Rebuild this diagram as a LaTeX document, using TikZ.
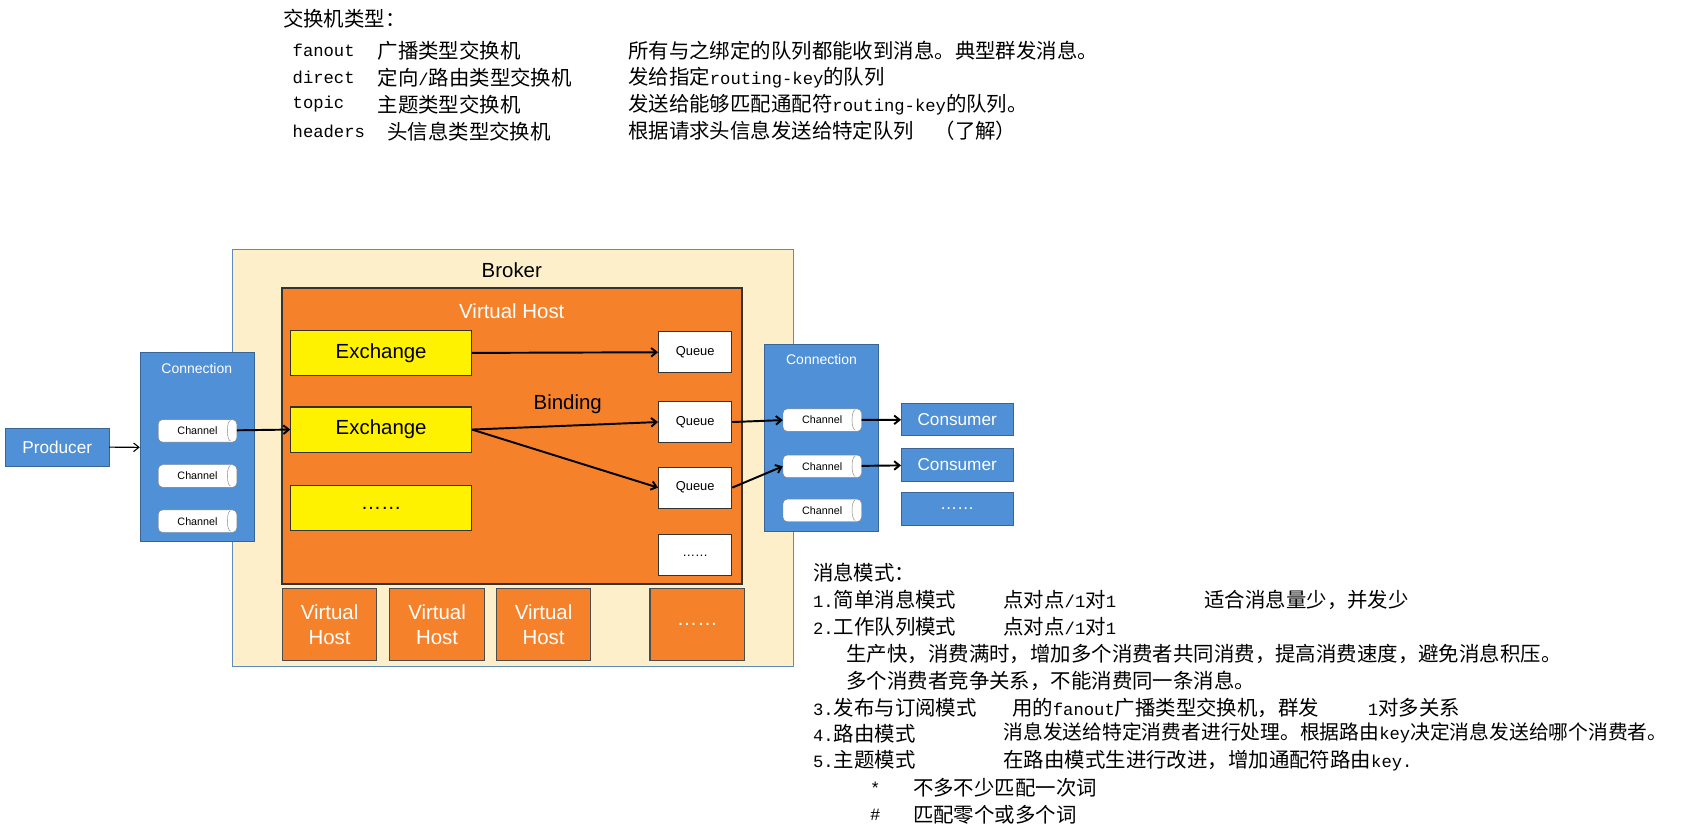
\documentclass[tikz,border=0pt]{standalone}
\usepackage{fontspec}
\setmainfont{Liberation Sans}
\newfontfamily\cjk{Noto Sans CJK SC}
\newfontfamily\mono{Liberation Mono}
\usetikzlibrary{arrows.meta,calc}
\begin{document}
\begin{tikzpicture}[x=1pt,y=-1pt,
 chan/.style={fill=white,draw=gray,rounded corners=4pt,font=\fontsize{10}{10}\selectfont},
 arr/.style={->,line width=1.8pt,>={Straight Barb[length=5pt,width=8pt]}},
 txt/.style={anchor=west,inner sep=0pt,font=\cjk\fontsize{19}{19}\selectfont},
 btxt/.style={anchor=west,inner sep=0pt,font=\cjk\fontsize{19}{19}\selectfont},
 bluebox/.style={fill=cblue,draw=cblue!70!black,text=white,inner sep=0pt,anchor=north west,font=\fontsize{16}{16}\selectfont}]
\definecolor{cblue}{RGB}{80,144,214}
\definecolor{corange}{RGB}{245,130,42}
\definecolor{ccream}{RGB}{253,239,201}
\definecolor{cyel}{RGB}{255,242,0}
\def\m#1{{\mono\fontsize{16}{16}\selectfont #1}}
\useasboundingbox (0,0) rectangle (1568,770);
% top text
\node[txt] at (263,17) {交换机类型：};
\node[txt] at (272,47) {\m{fanout}};
\node[txt] at (351,47) {广播类型交换机};
\node[txt] at (584,47) {所有与之绑定的队列都能收到消息。典型群发消息。};
\node[txt] at (272,72) {\m{direct}};
\node[txt] at (351,72) {定向\m{/}路由类型交换机};
\node[txt] at (584,72) {发给指定\m{routing-key}的队列};
\node[txt] at (272,97) {\m{topic}};
\node[txt] at (351,97) {主题类型交换机};
\node[txt] at (584,97) {发送给能够匹配通配符\m{routing-key}的队列。};
\node[txt] at (272,122) {\m{headers}};
\node[txt] at (360,122) {头信息类型交换机};
\node[txt] at (584,122) {根据请求头信息发送给特定队列\quad （了解）};
% broker
\draw[fill=ccream,draw=cblue!70!gray,line width=1pt] (216,232) rectangle (738,620);
\node[font=\fontsize{19}{19}\selectfont] at (476,251) {Broker};
\draw[fill=corange,draw=black!80,line width=1.5pt] (262,268) rectangle (690,543);
\node[white,font=\fontsize{19}{19}\selectfont] at (476,289) {Virtual Host};
\foreach \n/\y/\t in {e1/307/Exchange,e2/378/Exchange,e3/451/……}
 \node[draw=black!80,fill=cyel,line width=1pt,minimum width=168pt,minimum height=42pt,inner sep=0pt,font=\fontsize{19}{19}\selectfont,anchor=north west] (\n) at (270,\y) {\t};
\foreach \n/\y/\t in {q1/308/Queue,q2/373/Queue,q3/434/Queue,q4/497/……}
 \node[draw=black!80,fill=white,line width=1pt,minimum width=68pt,minimum height=38pt,inner sep=0pt,font=\fontsize{12}{12}\selectfont,anchor=north west] (\n) at (612,\y) {\t};
\foreach \n/\x/\t in {v1/262/Virtual\\Host,v2/362/Virtual\\Host,v3/461/Virtual\\Host,v4/604/……}
 \node[draw=black!70,fill=corange,line width=1pt,minimum width=88pt,minimum height=67pt,inner sep=0pt,align=center,text=white,font=\fontsize{19}{23}\selectfont,anchor=north west] (\n) at (\x,547) {\t};
% connections
\draw[fill=cblue,draw=cblue!70!black] (130,328) rectangle (236,503);
\node[text=white,font=\fontsize{13}{13}\selectfont] at (183,343) {Connection};
\draw[fill=cblue,draw=cblue!70!black] (711,320) rectangle (817,494);
\node[text=white,font=\fontsize{13}{13}\selectfont] at (764,334) {Connection};
\foreach \n/\x/\y in {lc1/147/390,lc2/147/432,lc3/147/474,rc1/728/380,rc2/728/423,rc3/728/464}{
 \node[chan,minimum width=73pt,minimum height=21pt,inner sep=0pt,anchor=north west] (\n) at (\x,\y) {Channel\hspace{8pt}};
 \draw[gray] ($(\n.north east)+(-6,1)$) arc[start angle=-90,end angle=-270,x radius=3,y radius=9.5];}
% producer/consumers
\node[bluebox,minimum width=96pt,minimum height=35pt] (prod) at (5,398) {Producer};
\foreach \n/\y/\t in {c1/375/Consumer,c2/417/Consumer,c3/458/……}
 \node[bluebox,minimum width=104pt,minimum height=30pt] (\n) at (838,\y) {\t};
\coordinate (lcin) at (130,416);
% arrows
\draw[->,line width=1pt,>={Straight Barb[length=5pt,width=8pt]}] (prod) -- (lcin);
\draw[arr] (lc1) -- (e2.west);
\draw[arr] (e1) -- (q1);
\draw[arr] (e2.east) -- (q2.west);
\draw[arr] (e2.east) -- (q3.west);
\node[font=\fontsize{19}{19}\selectfont] at (528,376) {Binding};
\draw[arr] (q2.east) -- (rc1.west);
\draw[arr] (q3.east) -- (rc2.west);
\draw[arr] (rc1) -- (c1);
\draw[arr] (rc2) -- (c2);
% bottom text
\node[btxt] at (756,533) {消息模式：};
\node[btxt] at (756,558) {\m{1.}简单消息模式};\node[btxt] at (933,558) {点对点\m{/1}对\m{1}};\node[btxt] at (1120,558) {适合消息量少，并发少};
\node[btxt] at (756,583) {\m{2.}工作队列模式};\node[btxt] at (933,583) {点对点\m{/1}对\m{1}};
\node[btxt] at (787,608) {生产快，消费满时，增加多个消费者共同消费，提高消费速度，避免消息积压。};
\node[btxt] at (787,633) {多个消费者竞争关系，不能消费同一条消息。};
\node[btxt] at (756,658) {\m{3.}发布与订阅模式};\node[btxt] at (941,658) {用的\m{fanout}广播类型交换机，群发};\node[btxt] at (1272,658) {\m{1}对多关系};
\node[btxt] at (756,682) {\m{4.}路由模式};\node[btxt,font=\cjk\fontsize{18.4}{18.4}\selectfont] at (933,682) {消息发送给特定消费者进行处理。根据路由\m{key}决定消息发送给哪个消费者。};
\node[btxt] at (756,707) {\m{5.}主题模式};\node[btxt] at (933,707) {在路由模式生进行改进，增加通配符路由\m{key.}};
\node[btxt] at (809,733) {\m{*}};\node[btxt] at (849,733) {不多不少匹配一次词};
\node[btxt] at (809,758) {\m{\#}};\node[btxt] at (849,758) {匹配零个或多个词};
\end{tikzpicture}
\end{document}
